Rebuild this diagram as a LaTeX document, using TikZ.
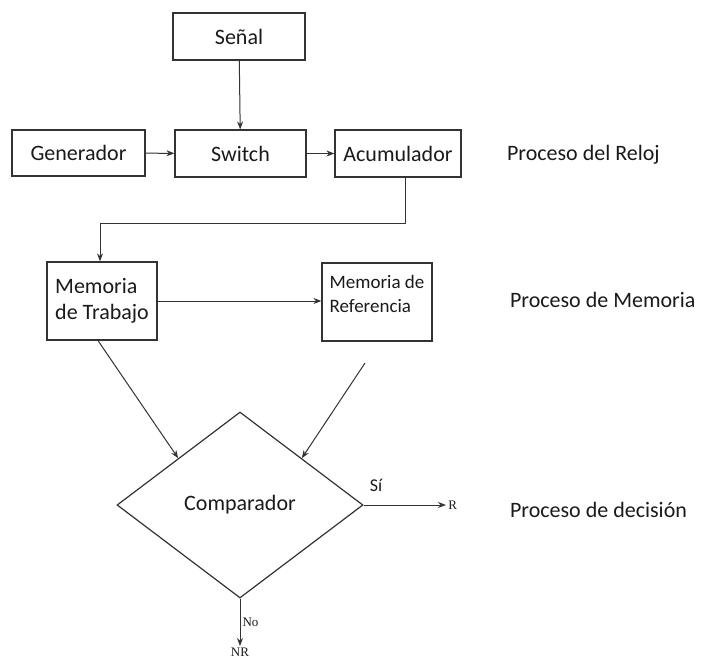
\documentclass[tikz,border=0pt]{standalone}
\usepackage{fontspec}
\setmainfont{Carlito}
\newfontfamily\serifnote{Liberation Serif}
\usetikzlibrary{shapes.geometric, arrows.meta, positioning, calc}
\definecolor{lineGray}{HTML}{333333}
\definecolor{textGray}{HTML}{1A1A1A}

\tikzset{
    blk/.style={draw=lineGray, line width=0.6pt, text=textGray, font=\fontsize{11}{13}\selectfont, inner sep=2pt},
    arr/.style={draw=lineGray, line width=0.5pt, -{Stealth[length=4pt, width=3pt]}},
    side/.style={anchor=west, text=textGray, font=\fontsize{11}{13}\selectfont},
    tag/.style={text=textGray, font=\serifnote\fontsize{6.5}{8}\selectfont, inner sep=1pt}
}

\begin{document}
\begin{tikzpicture}[x=0.5pt, y=-0.5pt]
        \useasboundingbox (0,0) rectangle (701,659);

        % Clock process
        \node[blk, minimum width=66pt, minimum height=23.5pt] (senal) at (239,36.5) {Señal};
        \node[blk, minimum width=66.5pt, minimum height=23pt] (gen) at (78.5,153) {Generador};
        \node[blk, minimum width=65.5pt, minimum height=23.5pt] (switch) at (240.5,153.5) {Switch};
        \node[blk, minimum width=63pt, minimum height=23.5pt] (acum) at (398,153.5) {Acumulador};

        \draw[arr] (senal) -- (switch);
        \draw[arr] (gen) -- (switch);
        \draw[arr] (switch) -- (acum);

        % Memory process
        \node[blk, minimum width=55pt, minimum height=39pt, align=left] (memT) at (102,301) {Memoria\\de Trabajo};
        \node[blk, minimum width=55pt, minimum height=39pt, align=left, text depth=8pt, font=\fontsize{9.5}{12}\selectfont] (memR) at (377,302) {Memoria de\\Referencia};

        \draw[arr] ([xshift=3.5pt]acum.south) -- ++(0,46) -| ([xshift=-1pt]memT.north);
        \draw[arr] (memT.east) -- (memT.east -| memR.west);

        % Decision process
        \node[draw=lineGray, line width=0.6pt, diamond, minimum width=123pt, minimum height=93pt, inner sep=0pt, text=textGray, font=\fontsize{11}{13}\selectfont] (cmp) at (240,505) {Comparador};
        \coordinate (refOut) at (365,363);

        \draw[arr] ([xshift=-2pt]memT.south) -- (cmp.north west);
        \draw[arr] (refOut) -- (cmp.north east);

        \node[tag, anchor=west] (rOut) at (446,505) {R};
        \node[tag, anchor=north] (nrOut) at (240,646) {NR};
        \draw[arr] (cmp.east) -- (rOut.west) node[pos=0.15, above=3pt, text=textGray, font=\fontsize{9}{11}\selectfont] (si) {Sí};
        \draw[arr] (cmp.south) -- (nrOut.north) node[midway, right=0pt, tag] (no) {No};

        % Side labels
        \node[side] (lblReloj) at (500,155) {Proceso del Reloj};
        \node[side] (lblMem) at (503,300) {Proceso de Memoria};
        \node[side] (lblDec) at (503,510) {Proceso de decisión};
    \end{tikzpicture}
\end{document}
